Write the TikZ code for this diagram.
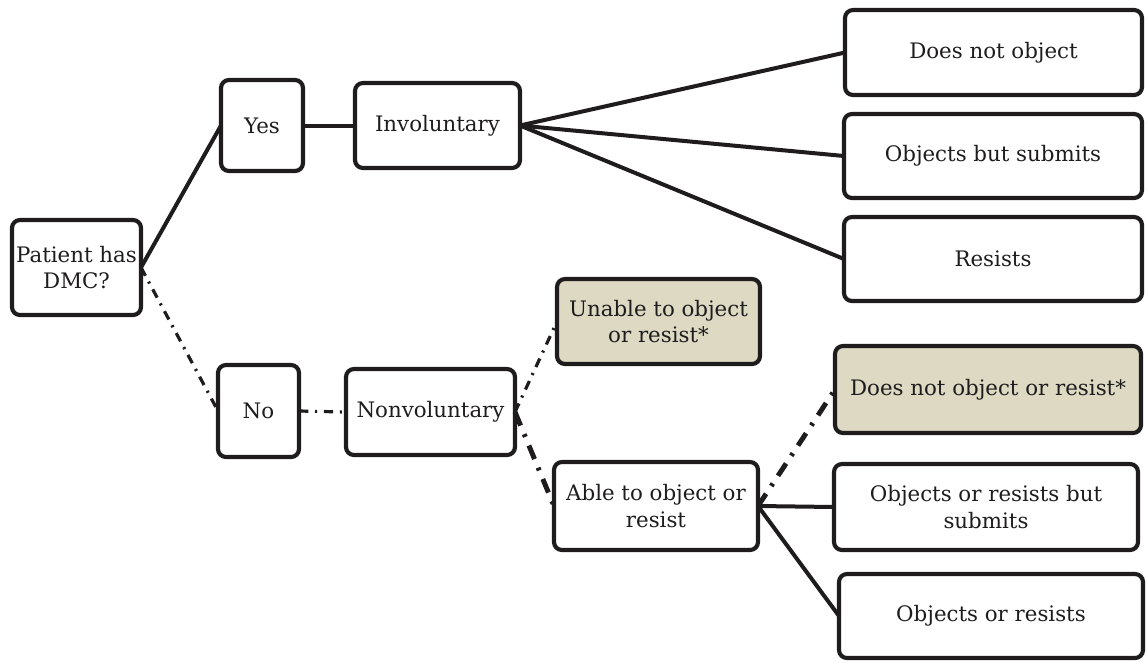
\documentclass[tikz,border=0pt]{standalone}
\usepackage{fontspec}
\setmainfont{DejaVu Serif}
\definecolor{ink}{HTML}{1E1C1D}
\definecolor{tan}{HTML}{DDD9C3}
\begin{document}
\begin{tikzpicture}[x=0.75pt,y=-0.75pt,
  box/.style={draw=ink, line width=3.1pt, rounded corners=6pt, inner sep=0pt, outer sep=0pt,
    align=center, text=ink, font=\fontsize{16pt}{20pt}\selectfont},
  shaded/.style={box, fill=tan},
  solidlink/.style={draw=ink, line width=3pt},
  thindd/.style={draw=ink, line width=2.4pt, dash pattern=on 7pt off 5pt on 1.6pt off 5pt},
  thickdd/.style={draw=ink, line width=3.7pt, dash pattern=on 11pt off 7pt on 2.2pt off 7pt}]
\useasboundingbox (0,0) rectangle (1146,662);
\node[box, minimum width=129*0.75pt, minimum height=95*0.75pt] (pat) at (76.5,267.5) {Patient has\\DMC?};
\node[box, minimum width=82*0.75pt, minimum height=91*0.75pt] (yes) at (262,125.5) {Yes};
\node[box, minimum width=165*0.75pt, minimum height=85*0.75pt] (inv) at (437.5,125.5) {Involuntary};
\node[box, minimum width=297*0.75pt, minimum height=85*0.75pt] (dno) at (993.5,52.5) {Does not object};
\node[box, minimum width=298*0.75pt, minimum height=84*0.75pt] (obs) at (993,156) {Objects but submits};
\node[box, minimum width=298*0.75pt, minimum height=84*0.75pt] (res) at (993,259) {Resists};
\node[box, minimum width=81*0.75pt, minimum height=92*0.75pt] (no) at (258.5,411) {No};
\node[box, minimum width=169*0.75pt, minimum height=86*0.75pt] (nonv) at (430.5,412) {Nonvoluntary};
\node[shaded, minimum width=203*0.75pt, minimum height=85*0.75pt] (unable) at (658.5,321.5) {Unable to object\\or resist*};
\node[box, minimum width=204*0.75pt, minimum height=88*0.75pt] (able) at (656,506) {Able to object or\\resist};
\node[shaded, minimum width=306*0.75pt, minimum height=87*0.75pt] (dnor) at (988,389.5) {Does not object or resist*};
\node[box, minimum width=304*0.75pt, minimum height=86*0.75pt] (orbs) at (986,507) {Objects or resists but\\submits};
\node[box, minimum width=304*0.75pt, minimum height=84*0.75pt] (ores) at (991,616) {Objects or resists};
\draw[solidlink] (pat.east) -- (yes.west);
\draw[solidlink] (yes.east) -- (inv.west);
\draw[solidlink] (inv.east) -- (dno.west);
\draw[solidlink] (inv.east) -- (obs.west);
\draw[solidlink] (inv.east) -- (res.west);
\draw[thindd] (pat.east) -- (no.west);
\draw[thindd] (no.east) -- (nonv.west);
\draw[thindd] (nonv.east) -- (unable.west);
\draw[thickdd] (nonv.east) -- (able.west);
\draw[thickdd] (able.east) -- (dnor.west);
\draw[solidlink] (able.east) -- (orbs.west);
\draw[solidlink] (able.east) -- (ores.west);
\end{tikzpicture}
\end{document}
